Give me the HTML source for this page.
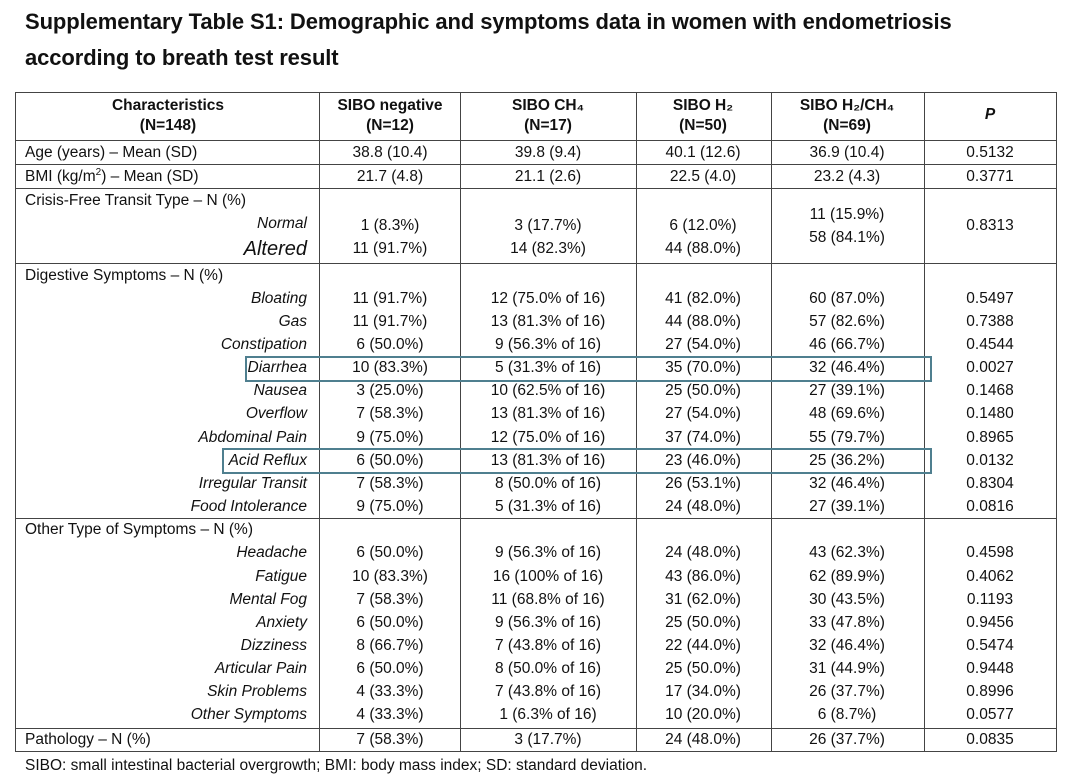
<!DOCTYPE html>
<html><head><meta charset="utf-8">
<style>
body{margin:0;width:1080px;height:771px;background:#fff;overflow:hidden;position:relative;font-family:"Liberation Sans",sans-serif;color:#111}
.t{position:absolute;left:25px;font-weight:bold;font-size:22px;letter-spacing:-0.1px;white-space:nowrap}
.h{position:absolute;background:#444}
.c{position:absolute;white-space:nowrap;font-size:15.5px;transform:translateX(-50%);line-height:18px}
.l{position:absolute;left:25px;white-space:nowrap;font-size:15.5px;line-height:18px}
.r{position:absolute;right:773px;white-space:nowrap;font-size:15.5px;font-style:italic;line-height:18px}
.b{font-weight:bold}
sup{font-size:10px;line-height:0;vertical-align:6px}
.box{position:absolute;border:2px solid #4f7f8f}
</style></head><body>
<div class="t" style="top:9px">Supplementary Table S1: Demographic and symptoms data in women with endometriosis</div>
<div class="t" style="top:45px">according to breath test result</div>

<div class="h" style="left:15px;top:92px;width:1042px;height:1px"></div>
<div class="h" style="left:15px;top:751px;width:1042px;height:1px"></div>
<div class="h" style="left:15px;top:92px;width:1px;height:660px"></div>
<div class="h" style="left:1056px;top:92px;width:1px;height:660px"></div>
<div class="h" style="left:319px;top:92px;width:1px;height:660px"></div>
<div class="h" style="left:460px;top:92px;width:1px;height:660px"></div>
<div class="h" style="left:636px;top:92px;width:1px;height:660px"></div>
<div class="h" style="left:771px;top:92px;width:1px;height:660px"></div>
<div class="h" style="left:924px;top:92px;width:1px;height:660px"></div>
<div class="h" style="left:15px;top:140px;width:1042px;height:1px"></div>
<div class="h" style="left:15px;top:164px;width:1042px;height:1px"></div>
<div class="h" style="left:15px;top:188px;width:1042px;height:1px"></div>
<div class="h" style="left:15px;top:263px;width:1042px;height:1px"></div>
<div class="h" style="left:15px;top:518px;width:1042px;height:1px"></div>
<div class="h" style="left:15px;top:728px;width:1042px;height:1px"></div>

<div class="c b" style="left:168px;top:97px">Characteristics</div>
<div class="c b" style="left:168px;top:117px">(N=148)</div>
<div class="c b" style="left:390px;top:97px">SIBO negative</div>
<div class="c b" style="left:390px;top:117px">(N=12)</div>
<div class="c b" style="left:548px;top:97px">SIBO CH₄</div>
<div class="c b" style="left:548px;top:117px">(N=17)</div>
<div class="c b" style="left:703px;top:97px">SIBO H₂</div>
<div class="c b" style="left:703px;top:117px">(N=50)</div>
<div class="c b" style="left:847px;top:97px">SIBO H₂/CH₄</div>
<div class="c b" style="left:847px;top:117px">(N=69)</div>
<div class="c b" style="left:990px;top:106px;font-style:italic">P</div>

<div class="l" style="top:144px">Age (years) – Mean (SD)</div>
<div class="c" style="left:390px;top:144px">38.8 (10.4)</div><div class="c" style="left:548px;top:144px">39.8 (9.4)</div><div class="c" style="left:703px;top:144px">40.1 (12.6)</div><div class="c" style="left:847px;top:144px">36.9 (10.4)</div><div class="c" style="left:990px;top:144px">0.5132</div>
<div class="l" style="top:168px">BMI (kg/m<sup>2</sup>) – Mean (SD)</div>
<div class="c" style="left:390px;top:168px">21.7 (4.8)</div><div class="c" style="left:548px;top:168px">21.1 (2.6)</div><div class="c" style="left:703px;top:168px">22.5 (4.0)</div><div class="c" style="left:847px;top:168px">23.2 (4.3)</div><div class="c" style="left:990px;top:168px">0.3771</div>

<div class="l" style="top:192px">Crisis-Free Transit Type – N (%)</div>
<div class="r" style="top:215px">Normal</div>
<div class="r" style="top:238px;font-size:20px;line-height:22px">Altered</div>
<div class="c" style="left:390px;top:217px">1 (8.3%)</div><div class="c" style="left:390px;top:240px">11 (91.7%)</div>
<div class="c" style="left:548px;top:217px">3 (17.7%)</div><div class="c" style="left:548px;top:240px">14 (82.3%)</div>
<div class="c" style="left:703px;top:217px">6 (12.0%)</div><div class="c" style="left:703px;top:240px">44 (88.0%)</div>
<div class="c" style="left:847px;top:206px">11 (15.9%)</div><div class="c" style="left:847px;top:229px">58 (84.1%)</div>
<div class="c" style="left:990px;top:217px">0.8313</div>

<div class="l" style="top:267px">Digestive Symptoms – N (%)</div>
<div class="r" style="top:290px">Bloating</div><div class="c" style="left:390px;top:290px">11 (91.7%)</div><div class="c" style="left:548px;top:290px">12 (75.0% of 16)</div><div class="c" style="left:703px;top:290px">41 (82.0%)</div><div class="c" style="left:847px;top:290px">60 (87.0%)</div><div class="c" style="left:990px;top:290px">0.5497</div>
<div class="r" style="top:313px">Gas</div><div class="c" style="left:390px;top:313px">11 (91.7%)</div><div class="c" style="left:548px;top:313px">13 (81.3% of 16)</div><div class="c" style="left:703px;top:313px">44 (88.0%)</div><div class="c" style="left:847px;top:313px">57 (82.6%)</div><div class="c" style="left:990px;top:313px">0.7388</div>
<div class="r" style="top:336px">Constipation</div><div class="c" style="left:390px;top:336px">6 (50.0%)</div><div class="c" style="left:548px;top:336px">9 (56.3% of 16)</div><div class="c" style="left:703px;top:336px">27 (54.0%)</div><div class="c" style="left:847px;top:336px">46 (66.7%)</div><div class="c" style="left:990px;top:336px">0.4544</div>
<div class="r" style="top:359px">Diarrhea</div><div class="c" style="left:390px;top:359px">10 (83.3%)</div><div class="c" style="left:548px;top:359px">5 (31.3% of 16)</div><div class="c" style="left:703px;top:359px">35 (70.0%)</div><div class="c" style="left:847px;top:359px">32 (46.4%)</div><div class="c" style="left:990px;top:359px">0.0027</div>
<div class="r" style="top:382px">Nausea</div><div class="c" style="left:390px;top:382px">3 (25.0%)</div><div class="c" style="left:548px;top:382px">10 (62.5% of 16)</div><div class="c" style="left:703px;top:382px">25 (50.0%)</div><div class="c" style="left:847px;top:382px">27 (39.1%)</div><div class="c" style="left:990px;top:382px">0.1468</div>
<div class="r" style="top:405px">Overflow</div><div class="c" style="left:390px;top:405px">7 (58.3%)</div><div class="c" style="left:548px;top:405px">13 (81.3% of 16)</div><div class="c" style="left:703px;top:405px">27 (54.0%)</div><div class="c" style="left:847px;top:405px">48 (69.6%)</div><div class="c" style="left:990px;top:405px">0.1480</div>
<div class="r" style="top:429px">Abdominal Pain</div><div class="c" style="left:390px;top:429px">9 (75.0%)</div><div class="c" style="left:548px;top:429px">12 (75.0% of 16)</div><div class="c" style="left:703px;top:429px">37 (74.0%)</div><div class="c" style="left:847px;top:429px">55 (79.7%)</div><div class="c" style="left:990px;top:429px">0.8965</div>
<div class="r" style="top:452px">Acid Reflux</div><div class="c" style="left:390px;top:452px">6 (50.0%)</div><div class="c" style="left:548px;top:452px">13 (81.3% of 16)</div><div class="c" style="left:703px;top:452px">23 (46.0%)</div><div class="c" style="left:847px;top:452px">25 (36.2%)</div><div class="c" style="left:990px;top:452px">0.0132</div>
<div class="r" style="top:475px">Irregular Transit</div><div class="c" style="left:390px;top:475px">7 (58.3%)</div><div class="c" style="left:548px;top:475px">8 (50.0% of 16)</div><div class="c" style="left:703px;top:475px">26 (53.1%)</div><div class="c" style="left:847px;top:475px">32 (46.4%)</div><div class="c" style="left:990px;top:475px">0.8304</div>
<div class="r" style="top:498px">Food Intolerance</div><div class="c" style="left:390px;top:498px">9 (75.0%)</div><div class="c" style="left:548px;top:498px">5 (31.3% of 16)</div><div class="c" style="left:703px;top:498px">24 (48.0%)</div><div class="c" style="left:847px;top:498px">27 (39.1%)</div><div class="c" style="left:990px;top:498px">0.0816</div>

<div class="l" style="top:521px">Other Type of Symptoms – N (%)</div>
<div class="r" style="top:544px">Headache</div><div class="c" style="left:390px;top:544px">6 (50.0%)</div><div class="c" style="left:548px;top:544px">9 (56.3% of 16)</div><div class="c" style="left:703px;top:544px">24 (48.0%)</div><div class="c" style="left:847px;top:544px">43 (62.3%)</div><div class="c" style="left:990px;top:544px">0.4598</div>
<div class="r" style="top:568px">Fatigue</div><div class="c" style="left:390px;top:568px">10 (83.3%)</div><div class="c" style="left:548px;top:568px">16 (100% of 16)</div><div class="c" style="left:703px;top:568px">43 (86.0%)</div><div class="c" style="left:847px;top:568px">62 (89.9%)</div><div class="c" style="left:990px;top:568px">0.4062</div>
<div class="r" style="top:591px">Mental Fog</div><div class="c" style="left:390px;top:591px">7 (58.3%)</div><div class="c" style="left:548px;top:591px">11 (68.8% of 16)</div><div class="c" style="left:703px;top:591px">31 (62.0%)</div><div class="c" style="left:847px;top:591px">30 (43.5%)</div><div class="c" style="left:990px;top:591px">0.1193</div>
<div class="r" style="top:614px">Anxiety</div><div class="c" style="left:390px;top:614px">6 (50.0%)</div><div class="c" style="left:548px;top:614px">9 (56.3% of 16)</div><div class="c" style="left:703px;top:614px">25 (50.0%)</div><div class="c" style="left:847px;top:614px">33 (47.8%)</div><div class="c" style="left:990px;top:614px">0.9456</div>
<div class="r" style="top:637px">Dizziness</div><div class="c" style="left:390px;top:637px">8 (66.7%)</div><div class="c" style="left:548px;top:637px">7 (43.8% of 16)</div><div class="c" style="left:703px;top:637px">22 (44.0%)</div><div class="c" style="left:847px;top:637px">32 (46.4%)</div><div class="c" style="left:990px;top:637px">0.5474</div>
<div class="r" style="top:660px">Articular Pain</div><div class="c" style="left:390px;top:660px">6 (50.0%)</div><div class="c" style="left:548px;top:660px">8 (50.0% of 16)</div><div class="c" style="left:703px;top:660px">25 (50.0%)</div><div class="c" style="left:847px;top:660px">31 (44.9%)</div><div class="c" style="left:990px;top:660px">0.9448</div>
<div class="r" style="top:683px">Skin Problems</div><div class="c" style="left:390px;top:683px">4 (33.3%)</div><div class="c" style="left:548px;top:683px">7 (43.8% of 16)</div><div class="c" style="left:703px;top:683px">17 (34.0%)</div><div class="c" style="left:847px;top:683px">26 (37.7%)</div><div class="c" style="left:990px;top:683px">0.8996</div>
<div class="r" style="top:706px">Other Symptoms</div><div class="c" style="left:390px;top:706px">4 (33.3%)</div><div class="c" style="left:548px;top:706px">1 (6.3% of 16)</div><div class="c" style="left:703px;top:706px">10 (20.0%)</div><div class="c" style="left:847px;top:706px">6 (8.7%)</div><div class="c" style="left:990px;top:706px">0.0577</div>

<div class="l" style="top:731px">Pathology – N (%)</div><div class="c" style="left:390px;top:731px">7 (58.3%)</div><div class="c" style="left:548px;top:731px">3 (17.7%)</div><div class="c" style="left:703px;top:731px">24 (48.0%)</div><div class="c" style="left:847px;top:731px">26 (37.7%)</div><div class="c" style="left:990px;top:731px">0.0835</div>

<div class="l" style="top:757px">SIBO: small intestinal bacterial overgrowth; BMI: body mass index; SD: standard deviation.</div>

<div class="box" style="left:245px;top:356px;width:683px;height:22px"></div>
<div class="box" style="left:222px;top:448px;width:706px;height:22px"></div>
</body></html>
